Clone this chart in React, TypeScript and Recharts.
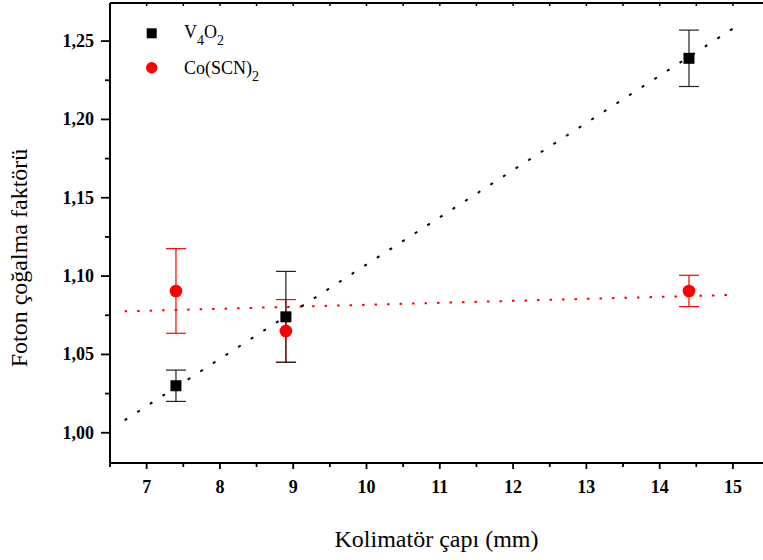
import React from 'react';
import { ScatterChart, Scatter, XAxis, YAxis, ErrorBar, Legend } from 'recharts';

const diameters = [7.4, 8.9, 14.4];
const v4o2Values = [1.03, 1.074, 1.239];
const v4o2Errors = [0.01, 0.029, 0.018];
const cosnValues = [1.0905, 1.065, 1.0905];
const cosnErrors = [0.027, 0.02, 0.01];
const fitX = [6.7, 15.0];
const v4o2Fit = [1.008, 1.258];
const cosnFit = [1.0775, 1.088];
const xTicks = [6.5, 7, 7.5, 8, 8.5, 9, 9.5, 10, 10.5, 11, 11.5, 12, 12.5, 13, 13.5, 14, 14.5, 15];
const yTicks = [1.0, 1.025, 1.05, 1.075, 1.1, 1.125, 1.15, 1.175, 1.2, 1.225, 1.25];
const X_DOMAIN: [number, number] = [6.5, 15.41];
const Y_DOMAIN: [number, number] = [0.9807, 1.2743];

const v4o2Data = diameters.map((x, i) => ({ x, y: v4o2Values[i], err: v4o2Errors[i] }));
const cosnData = diameters.map((x, i) => ({ x, y: cosnValues[i], err: cosnErrors[i] }));
const v4o2FitData = fitX.map((x, i) => ({ x, y: v4o2Fit[i] }));
const cosnFitData = fitX.map((x, i) => ({ x, y: cosnFit[i] }));

const FONT = "'Liberation Serif', 'Times New Roman', serif";
const SHIFT = 10;

const isMajorX = (v: number) => Math.abs(v - Math.round(v)) < 1e-6;
const isMajorY = (v: number) => Math.abs(v * 20 - Math.round(v * 20)) < 1e-6;

const XTick = (props: any) => {
  const { x, y, payload } = props;
  const v = payload.value;
  const major = isMajorX(v);
  return (
    <g>
      <line x1={x} x2={x} y1={y} y2={y + (major ? 6 : 4)} stroke="#000" strokeWidth={1.8} />
      {major && v >= 7 && (
        <text x={x} y={y + 29.5} textAnchor="middle" style={{ fontFamily: FONT, fontWeight: 700, fontSize: 18 }} fill="#000">
          {String(v)}
        </text>
      )}
    </g>
  );
};

const TopTick = (props: any) => {
  const { x, y } = props;
  return <line x1={x} x2={x} y1={y} y2={y + 3} stroke="#000" strokeWidth={1.5} />;
};

const YTick = (props: any) => {
  const { x, y, payload } = props;
  const v = payload.value;
  const major = isMajorY(v);
  return (
    <g>
      <line x1={x} x2={x - (major ? 9 : 5)} y1={y} y2={y} stroke="#000" strokeWidth={1.8} />
      {major && (
        <text x={x - 16} y={y + 6} textAnchor="end" style={{ fontFamily: FONT, fontWeight: 700, fontSize: 18 }} fill="#000">
          {v.toFixed(2).replace('.', ',')}
        </text>
      )}
    </g>
  );
};

const Square = (props: any) => {
  const { cx, cy } = props;
  return <rect x={cx - 5.5} y={cy - 5.5} width={11} height={11} fill="#000" />;
};

const Dot = (props: any) => {
  const { cx, cy } = props;
  return <circle cx={cx} cy={cy} r={6.3} fill="#ff0000" />;
};

const Empty = () => <g />;

const renderLegend = () => (
  <svg width={220} height={75} style={{ display: 'block' }}>
    <rect x={16.7} y={13.3} width={10} height={10} fill="#000" />
    <text x={54} y={23} style={{ fontFamily: FONT, fontSize: 18 }} fill="#000">
      V<tspan style={{ fontSize: 14 }} dy={7}>4</tspan>
      <tspan style={{ fontSize: 18 }} dy={-7}>O</tspan>
      <tspan style={{ fontSize: 14 }} dy={7}>2</tspan>
    </text>
    <circle cx={21.7} cy={52.7} r={5.7} fill="#ff0000" />
    <text x={54} y={59} style={{ fontFamily: FONT, fontSize: 18 }} fill="#000">
      Co(SCN)<tspan style={{ fontSize: 14 }} dy={7}>2</tspan>
    </text>
  </svg>
);

export default function App() {
  return (
    <div style={{ position: 'absolute', left: 0, top: 0, width: 763, height: 560, overflow: 'hidden', background: '#fff' }}>
      <div style={{ position: 'absolute', left: 0, top: -SHIFT }}>
        <ScatterChart width={763} height={560 + SHIFT} margin={{ top: SHIFT, right: 0, bottom: 0, left: 0 }}>
          <XAxis
            xAxisId="bottom"
            type="number"
            dataKey="x"
            domain={X_DOMAIN}
            allowDataOverflow
            ticks={xTicks}
            interval={0}
            height={97}
            tickSize={0}
            tickMargin={0}
            tickLine={false}
            axisLine={{ stroke: '#000', strokeWidth: 2 }}
            tick={<XTick />}
            label={{
              content: (p: any) => (
                <text
                  x={p.viewBox.x + p.viewBox.width / 2}
                  y={p.viewBox.y + 84}
                  textAnchor="middle"
                  style={{ fontFamily: FONT, fontSize: 24 }}
                  fill="#000"
                >
                  Kolimatör çapı (mm)
                </text>
              ),
            }}
          />
          <XAxis
            xAxisId="top"
            orientation="top"
            type="number"
            dataKey="x"
            domain={X_DOMAIN}
            allowDataOverflow
            ticks={xTicks}
            interval={0}
            height={3}
            tickSize={0}
            tickMargin={0}
            tickLine={false}
            axisLine={{ stroke: '#000', strokeWidth: 2 }}
            tick={<TopTick />}
          />
          <YAxis
            yAxisId="left"
            type="number"
            dataKey="y"
            domain={Y_DOMAIN}
            allowDataOverflow
            ticks={yTicks}
            interval={0}
            width={110}
            tickSize={0}
            tickMargin={0}
            tickLine={false}
            axisLine={{ stroke: '#000', strokeWidth: 2 }}
            tick={<YTick />}
            label={{
              content: (p: any) => (
                <text
                  transform={`translate(${p.viewBox.x + 27},${258 + SHIFT}) rotate(-90)`}
                  textAnchor="middle"
                  style={{ fontFamily: FONT, fontSize: 24 }}
                  fill="#000"
                >
                  Foton çoğalma faktörü
                </text>
              ),
            }}
          />
          <Legend
            layout="vertical"
            align="center"
            verticalAlign="middle"
            content={renderLegend}
            wrapperStyle={{ left: 130, top: 15 + SHIFT, width: 220, height: 75 }}
          />
          <Scatter
            xAxisId="top"
            yAxisId="left"
            data={cosnFitData}
            line={{ stroke: '#ff0000', strokeWidth: 2, strokeDasharray: '2.5 10' }}
            shape={<Empty />}
            legendType="none"
            isAnimationActive={false}
          />
          <Scatter
            xAxisId="bottom"
            yAxisId="left"
            data={v4o2FitData}
            line={{ stroke: '#000', strokeWidth: 2, strokeDasharray: '3 12' }}
            shape={<Empty />}
            legendType="none"
            isAnimationActive={false}
          />
          <Scatter xAxisId="bottom" yAxisId="left" data={cosnData} shape={<Dot />} isAnimationActive={false}>
            <ErrorBar dataKey="err" direction="y" width={10} stroke="#ff0000" strokeWidth={1.2} isAnimationActive={false} />
          </Scatter>
          <Scatter xAxisId="bottom" yAxisId="left" data={v4o2Data} shape={<Square />} isAnimationActive={false}>
            <ErrorBar dataKey="err" direction="y" width={10} stroke="#222" strokeWidth={1.2} isAnimationActive={false} />
          </Scatter>
        </ScatterChart>
      </div>
    </div>
  );
}
